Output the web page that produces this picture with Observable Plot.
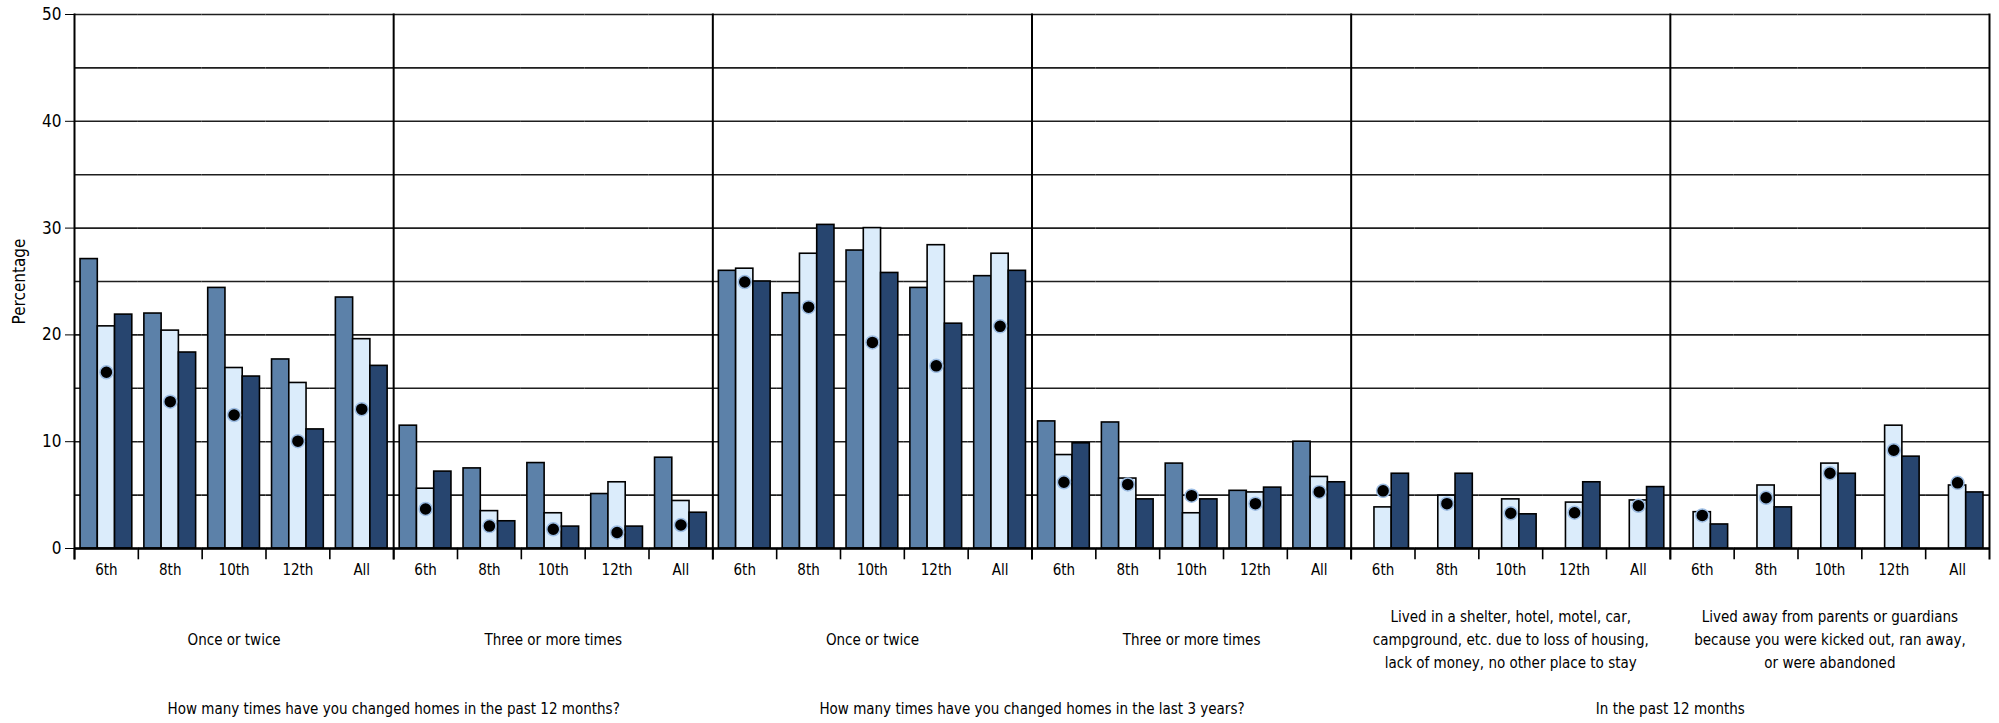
<!DOCTYPE html>
<html>
<head>
<meta charset="utf-8">
<script src="https://cdn.jsdelivr.net/npm/d3@7"></script>
<script src="https://cdn.jsdelivr.net/npm/@observablehq/plot@0.6"></script>
<style>
  html, body { margin: 0; padding: 0; background: white; }
  #chart svg { display: block; }
</style>
</head>
<body>
<div id="chart"></div>
<script>
// ---- data ----
const grades = ["6th", "8th", "10th", "12th", "All"];
const seriesKeys = ["A", "B", "C"];
const seriesColors = ["#5c81a9", "#dbecfb", "#27456f"];

const panelLabels = [
  "Once or twice",
  "Three or more times",
  "Once or twice",
  "Three or more times",
  "Lived in a shelter, hotel, motel, car,\ncampground, etc. due to loss of housing,\nlack of money, no other place to stay",
  "Lived away from parents or guardians\nbecause you were kicked out, ran away,\nor were abandoned"
];
const questionLabels = [
  "How many times have you changed homes in the past 12 months?",
  "How many times have you changed homes in the last 3 years?",
  "In the past 12 months"
];

// one row per panel, one value per grade
const seriesA = [
  [27.1, 22.0, 24.4, 17.7, 23.5],
  [11.5, 7.5, 8.0, 5.1, 8.5],
  [26.0, 23.9, 27.9, 24.4, 25.5],
  [11.9, 11.8, 7.95, 5.4, 10.0],
  [null, null, null, null, null],
  [null, null, null, null, null]
];
const seriesB = [
  [20.8, 20.4, 16.9, 15.5, 19.6],
  [5.6, 3.5, 3.3, 6.2, 4.45],
  [26.2, 27.6, 30.0, 28.4, 27.6],
  [8.75, 6.55, 3.3, 5.25, 6.7],
  [3.85, 4.95, 4.6, 4.3, 4.5],
  [3.4, 5.9, 7.95, 11.5, 5.9]
];
const seriesC = [
  [21.9, 18.35, 16.1, 11.15, 17.1],
  [7.2, 2.55, 2.05, 2.05, 3.35],
  [25.0, 30.3, 25.8, 21.05, 26.0],
  [9.85, 4.6, 4.6, 5.7, 6.2],
  [7.0, 7.0, 3.2, 6.2, 5.75],
  [2.25, 3.85, 7.0, 8.6, 5.25]
];
const dotValues = [
  [16.5, 13.75, 12.5, 10.05, 13.05],
  [3.7, 2.1, 1.8, 1.5, 2.2],
  [24.95, 22.6, 19.3, 17.1, 20.8],
  [6.2, 6.0, 4.95, 4.2, 5.3],
  [5.4, 4.2, 3.3, 3.35, 4.0],
  [3.1, 4.75, 7.05, 9.2, 6.15]
];
const yTicks = [0, 10, 20, 30, 40, 50];
const gridValues = [0, 5, 10, 15, 20, 25, 30, 35, 40, 45, 50];

// ---- build tables ----
const key = (p, g) => `${p}|${g}`;
const fxDomain = [];
panelLabels.forEach((_, p) => grades.forEach(g => fxDomain.push(key(p, g))));

const bars = [];
const seriesArrays = [seriesA, seriesB, seriesC];
panelLabels.forEach((_, p) => grades.forEach((g, j) => {
  seriesArrays.forEach((arr, s) => {
    const v = arr[p][j];
    if (v != null) bars.push({fx: key(p, g), s: seriesKeys[s], v});
  });
}));
const dots = [];
panelLabels.forEach((_, p) => grades.forEach((g, j) => {
  dots.push({fx: key(p, g), s: "B", v: dotValues[p][j]});
}));
const panelRows = panelLabels.map((label, p) => ({fx: key(p, "10th"), label}));
const questionRows = questionLabels.map((label, q) => ({fx: key(q * 2, "All"), label}));

// ---- layout ----
const W = 1999, H = 723;
const mTop = 14, mBottom = 175, mLeft = 74, mRight = 10;
const innerH = H - mTop - mBottom;
const font = "'Liberation Sans Narrow', 'DejaVu Sans Condensed', 'Roboto Condensed', 'Arial Narrow', sans-serif";

const dividerMarks = panelLabels.map((_, p) =>
  Plot.frame({anchor: "left", fx: () => key(p, "6th"), stroke: "black", strokeWidth: 2, insetBottom: -10})
);
dividerMarks.push(Plot.frame({anchor: "right", fx: () => key(panelLabels.length - 1, "All"), stroke: "black", strokeWidth: 2, insetBottom: -10}));

const chart = Plot.plot({
  width: W,
  height: H,
  marginTop: mTop,
  marginBottom: mBottom,
  marginLeft: mLeft,
  marginRight: mRight,
  style: {fontFamily: font, fontSize: "15px", color: "black", background: "white"},
  fx: {domain: fxDomain, padding: 0, round: false},
  x: {domain: seriesKeys, paddingInner: 0, paddingOuter: 0.35, round: false, axis: null},
  y: {domain: [0, 50]},
  color: {domain: seriesKeys, range: seriesColors},
  marks: [
    Plot.ruleY(gridValues, {stroke: "#1e1e1e", strokeWidth: 1.6}),
    Plot.barY(bars, {fx: "fx", x: "s", y: "v", fill: "s", stroke: "black", strokeWidth: 1.6}),
    Plot.dot(dots, {fx: "fx", x: "s", y: "v", r: 6.5, fill: "black", stroke: "#9dbde3", strokeWidth: 1.5}),
    Plot.ruleY([0], {stroke: "black", strokeWidth: 2.5}),
    Plot.frame({anchor: "left", stroke: "black", strokeWidth: 1.6, insetTop: innerH, insetBottom: -10}),
    ...dividerMarks,
    Plot.axisY({ticks: yTicks, tickSize: 9, tickPadding: 4, fontSize: 17, label: "Percentage", labelAnchor: "center", labelArrow: "none", labelOffset: 62}),
    Plot.axisFx({anchor: "bottom", tickSize: 0, tickPadding: 16, fontSize: 15, label: null, tickFormat: d => d.split("|")[1]}),
    Plot.text(panelRows, {fx: "fx", text: "label", frameAnchor: "bottom", dy: 89, lineAnchor: "middle", lineHeight: 1.55, fontSize: 15}),
    Plot.text(questionRows, {fx: "fx", text: "label", frameAnchor: "bottom-right", textAnchor: "middle", dy: 161, lineAnchor: "middle", fontSize: 15})
  ]
});
document.getElementById("chart").appendChild(chart);
</script>
</body>
</html>
